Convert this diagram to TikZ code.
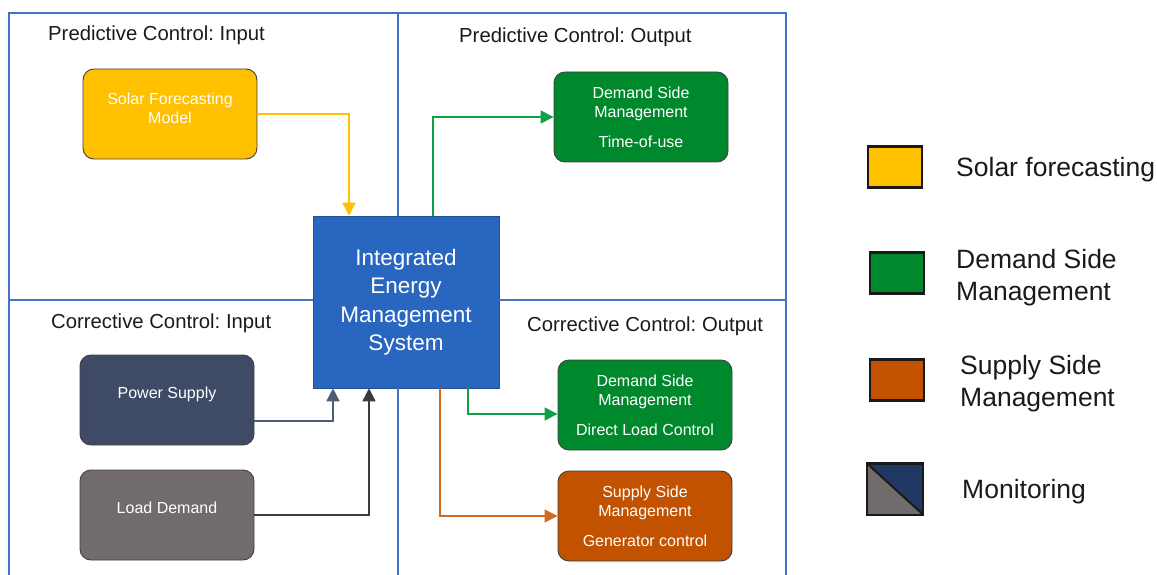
\documentclass[tikz,border=0pt]{standalone}
\usepackage{fontspec}
\setmainfont{Liberation Sans}
\usetikzlibrary{arrows.meta}
\frenchspacing

\definecolor{frameblue}{HTML}{4472C4}
\definecolor{emsblue}{HTML}{2866BF}
\definecolor{solarfill}{HTML}{FFC000}
\definecolor{dsmfill}{HTML}{00892C}
\definecolor{ssmfill}{HTML}{C25100}
\definecolor{supplyfill}{HTML}{3F4B66}
\definecolor{loadfill}{HTML}{716C6B}
\definecolor{navy}{HTML}{1F3864}
\definecolor{dsmline}{HTML}{10A04A}
\definecolor{ssmline}{HTML}{D06A22}
\definecolor{supplyline}{HTML}{4E5C7A}
\definecolor{loadline}{HTML}{3B3B3B}
\definecolor{inkdark}{HTML}{1A1A1A}

\tikzset{
  frame/.style={draw=frameblue, line width=1.4pt},
  box/.style={draw=black!75, line width=0.9pt, rounded corners=11pt,
    minimum width=174pt, minimum height=90pt, inner sep=0pt},
  boxtext/.style={text=white, align=center, font=\fontsize{16}{19}\selectfont},
  title/.style={text=inkdark, anchor=west, inner sep=0pt,
    font=\fontsize{20.3}{23}\selectfont},
  link/.style={line width=1.6pt, -{Triangle[length=13pt,width=13pt]}},
  legbox/.style={draw=black!90, line width=2.4pt, minimum width=54pt,
    minimum height=41pt, inner sep=0pt},
  legtext/.style={text=inkdark, anchor=west, align=left, inner sep=0pt,
    font=\fontsize{26.5}{32}\selectfont},
}

\begin{document}
\begin{tikzpicture}[x=1pt, y=-1pt]
\useasboundingbox (0,0) rectangle (1157,575);

% central system block
\node[fill=emsblue, draw=emsblue!80!black, line width=0.6pt,
      minimum width=186pt, minimum height=172pt, inner sep=0pt,
      text=white, align=center, font=\fontsize{22.5}{28.5}\selectfont]
      (ems) at (406,302) {Integrated\\Energy\\Management\\System};

% quadrant frame
\draw[frame] (9,575) -- (9,13) -- (786,13) -- (786,575);
\draw[frame] (398,13) -- (398,216);
\draw[frame] (398,388) -- (398,575);
\draw[frame] (9,300) -- (ems.west |- 0,300);
\draw[frame] (ems.east |- 0,300) -- (786,300);

% quadrant titles
\node[title] (t1) at (48,35) {Predictive Control: Input};
\node[title] (t2) at (459,37) {Predictive Control: Output};
\node[title] (t3) at (51,323) {Corrective Control: Input};
\node[title] (t4) at (527,326) {Corrective Control: Output};

% predictive input
\node[box, fill=solarfill] (solar) at (170,114) {};
\node[boxtext] (solartxt) at ([yshift=6pt]solar.center) {Solar Forecasting\\Model};

% predictive output
\node[box, fill=dsmfill, boxtext] (dsm1) at (641,117)
  {Demand Side\\Management\\[11pt]Time-of-use};

% corrective input
\node[box, fill=supplyfill] (power) at (167,400) {};
\node[boxtext] (powertxt) at ([yshift=6pt]power.center) {Power Supply};
\node[box, fill=loadfill] (load) at (167,515) {};
\node[boxtext] (loadtxt) at ([yshift=7pt]load.center) {Load Demand};

% corrective output
\node[box, fill=dsmfill, boxtext] (dsm2) at (645,405)
  {Demand Side\\Management\\[11pt]Direct Load Control};
\node[box, fill=ssmfill, boxtext] (ssm) at (645,516)
  {Supply Side\\Management\\[11pt]Generator control};

% connectors
\draw[link, solarfill] (solar.east) -| ([xshift=-57pt]ems.north);
\draw[link, dsmline] ([xshift=27pt]ems.north) |- (dsm1.west);
\draw[link, dsmline] ([xshift=62pt]ems.south) |- ([yshift=-9pt]dsm2.west);
\draw[link, ssmline] ([xshift=34pt]ems.south) |- (ssm.west);
\draw[link, supplyline] ([yshift=-21pt]power.east) -| ([xshift=-73pt]ems.south);
\draw[link, loadline] (load.east) -| ([xshift=-37pt]ems.south);

% legend
\node[legbox, fill=solarfill] (lg1) at (895,167) {};
\node[legtext] (lt1) at (956,170) {Solar forecasting};
\node[legbox, fill=dsmfill] (lg2) at (897,273) {};
\node[legtext] (lt2) at (956,278) {Demand Side\\Management};
\node[legbox, fill=ssmfill] (lg3) at (897,380) {};
\node[legtext] (lt3) at (960,384) {Supply Side\\Management};
\node[legbox, minimum height=49pt] (lg4) at (895,489) {};
\fill[loadfill] (lg4.north west) -- (lg4.south east) -- (lg4.south west) -- cycle;
\fill[navy] (lg4.north west) -- (lg4.north east) -- (lg4.south east) -- cycle;
\draw[black!90, line width=2.4pt] (lg4.north west) rectangle (lg4.south east);
\draw[black!90, line width=2pt] (lg4.north west) -- (lg4.south east);
\node[legtext] (lt4) at (962,492) {Monitoring};
\end{tikzpicture}
\end{document}
